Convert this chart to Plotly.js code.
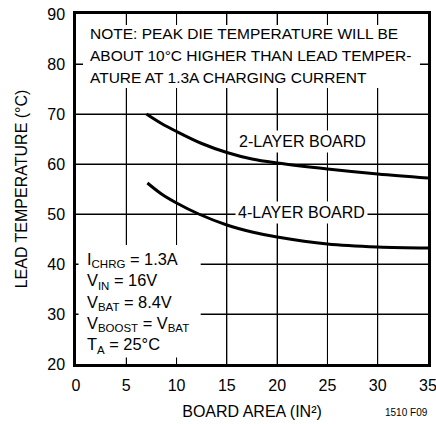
<!DOCTYPE html>
<html>
<head>
<meta charset="utf-8">
<script src="https://cdn.plot.ly/plotly-3.0.1.min.js"></script>
<style>html,body{margin:0;padding:0;background:#fff;}#chart{width:436px;height:424px;}</style>
</head>
<body>
<div id="chart"></div>
<script>
const xTwoLayer = [7.0, 8.5, 10, 12.5, 15, 17.5, 20, 25, 30, 35];
const yTwoLayer = [70.0, 68.1, 66.5, 64.1, 62.3, 61.0, 60.2, 59.0, 58.0, 57.2];
const xFourLayer = [7.1, 8.5, 10, 12.2, 15, 17.5, 20, 25, 30, 35];
const yFourLayer = [56.2, 54.0, 52.2, 50.0, 47.8, 46.4, 45.4, 44.0, 43.4, 43.2];
const xTicks = [0, 5, 10, 15, 20, 25, 30, 35];
const yTicks = [20, 30, 40, 50, 60, 70, 80, 90];
const noteLines = ['NOTE: PEAK DIE TEMPERATURE WILL BE', 'ABOUT 10°C HIGHER THAN LEAD TEMPER-', 'ATURE AT 1.3A CHARGING CURRENT'];
const condLines = ['I<sub>CHRG</sub> = 1.3A', 'V<sub>IN</sub> = 16V', 'V<sub>BAT</sub> = 8.4V', 'V<sub>BOOST</sub> = V<sub>BAT</sub>', 'T<sub>A</sub> = 25°C'];

const FONT = '"Liberation Sans", Arial, sans-serif';
const X_RANGE = [0, 35];
const Y_RANGE = [20, 90];

const traces = [
  {x: xTwoLayer, y: yTwoLayer, mode: 'lines', line: {color: '#000', width: 3, shape: 'spline'}, hoverinfo: 'skip'},
  {x: xFourLayer, y: yFourLayer, mode: 'lines', line: {color: '#000', width: 3, shape: 'spline'}, hoverinfo: 'skip'}
];

function axis(rng, tv, title, standoff) {
  return {
    range: rng, tickmode: 'array', tickvals: tv, ticktext: tv.map(String),
    showgrid: true, gridcolor: '#000', gridwidth: 1,
    showline: true, linecolor: '#000', linewidth: 2.5, mirror: true,
    ticks: 'outside', ticklen: 5, tickcolor: 'rgba(0,0,0,0)', zeroline: false,
    ticklabeloverflow: 'allow',
    tickfont: {family: FONT, size: 16},
    title: {text: title, font: {family: FONT, size: 16}, standoff: standoff}
  };
}

// grid lines at the interior tick values (placed through the axes' own scales)
const gridStyle = {color: '#000', width: 1};
const shapes = [];
xTicks.filter(v => v > X_RANGE[0] && v < X_RANGE[1]).forEach(v => shapes.push(
  {type: 'line', xref: 'x', yref: 'paper', x0: v, x1: v, y0: 0, y1: 1, layer: 'above', line: gridStyle}));
yTicks.filter(v => v > Y_RANGE[0] && v < Y_RANGE[1]).forEach(v => shapes.push(
  {type: 'line', xref: 'paper', yref: 'y', x0: 0, x1: 1, y0: v, y1: v, layer: 'above', line: gridStyle}));
// white backing boxes behind the two text blocks
shapes.push(
  {type: 'rect', xref: 'x', yref: 'y', x0: 0.7, x1: 34.2, y0: 75.2, y1: 87.8, layer: 'above', fillcolor: '#fff', line: {width: 0}},
  {type: 'rect', xref: 'x', yref: 'y', x0: 0.25, x1: 12.4, y0: 21.3, y1: 43.8, layer: 'above', fillcolor: '#fff', line: {width: 0}}
);

const annotations = [];
noteLines.forEach((t, i) => annotations.push({
  xref: 'x', yref: 'y', x: 1.2, y: 86.2 - i * 4.4, xanchor: 'left', yanchor: 'middle', align: 'left',
  showarrow: false, text: t, font: {family: FONT, size: 15.5}
}));
annotations.push({
  xref: 'x', yref: 'y', x: 0.9, y: 43.2, xanchor: 'left', yanchor: 'top', align: 'left', showarrow: false,
  text: condLines.join('<br>'), font: {family: FONT, size: 16.4}
});
annotations.push(
  {xref: 'x', yref: 'y', x: 22.55, y: 64.6, xanchor: 'center', yanchor: 'middle', showarrow: false,
   text: '2-LAYER BOARD', bgcolor: '#fff', borderpad: 2, font: {family: FONT, size: 16}},
  {xref: 'x', yref: 'y', x: 22.4, y: 50.3, xanchor: 'center', yanchor: 'middle', showarrow: false,
   text: '4-LAYER BOARD', bgcolor: '#fff', borderpad: 2, font: {family: FONT, size: 16}},
  {xref: 'paper', yref: 'paper', x: 1.005, y: -0.117, xanchor: 'right', yanchor: 'top', showarrow: false,
   text: '1510 F09', font: {family: FONT, size: 10}}
);

const layout = {
  width: 436, height: 424,
  margin: {l: 76, r: 8, t: 14, b: 60},
  showlegend: false,
  paper_bgcolor: '#fff', plot_bgcolor: '#fff',
  font: {family: FONT, size: 16, color: '#000'},
  xaxis: axis(X_RANGE, xTicks, 'BOARD AREA (IN²)', 13),
  yaxis: axis(Y_RANGE, yTicks, 'LEAD TEMPERATURE (°C)', 16),
  shapes: shapes,
  annotations: annotations
};

Plotly.newPlot('chart', traces, layout, {displayModeBar: false});
</script>
</body>
</html>
